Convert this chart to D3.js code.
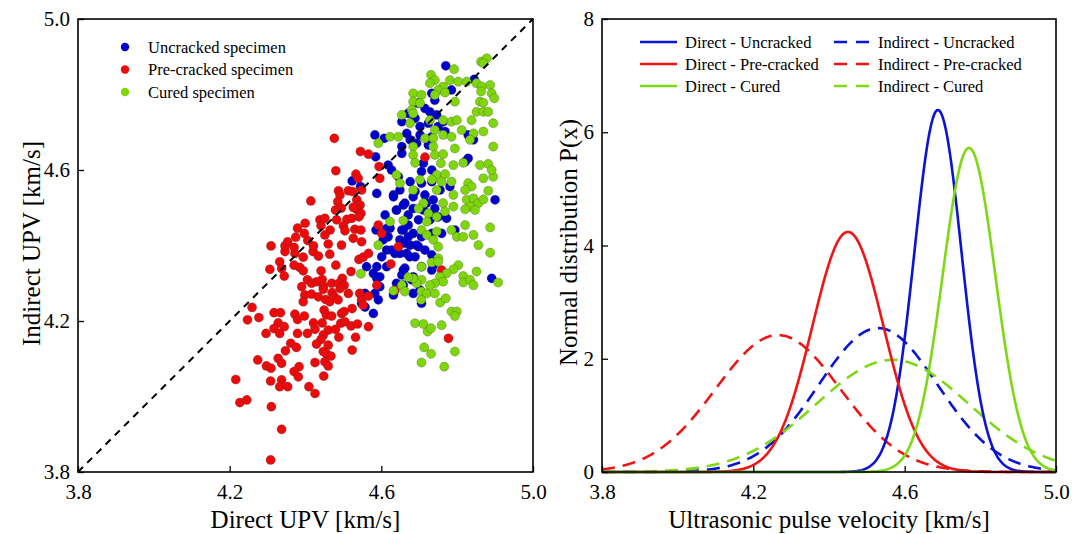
<!DOCTYPE html>
<html>
<head>
<meta charset="utf-8">
<script src="https://cdn.jsdelivr.net/npm/d3@7"></script>
<style>
  body { margin: 0; background: #fff; }
  svg { display: block; }
  text { font-family: "Liberation Serif", "Times New Roman", serif; fill: #000; }
</style>
</head>
<body>
<svg id="chart" width="1072" height="534"></svg>
<script>
// ---- Scatter data: [direct UPV, indirect UPV] in km/s ----
const uncracked = [
  [4.770,4.876],[4.845,4.840],[4.785,4.812],[4.733,4.803],[4.741,4.785],[4.697,4.777],[4.715,4.763],
  [4.728,4.754],[4.746,4.746],[4.763,4.728],[4.654,4.728],[4.689,4.737],[4.671,4.750],[4.702,4.715],
  [4.724,4.724],[4.750,4.715],[4.768,4.702],[4.702,4.693],[4.733,4.688],[4.667,4.697],[4.676,4.680],
  [4.654,4.662],[4.693,4.671],[4.583,4.693],[4.608,4.684],[4.829,4.693],[4.843,4.680],[4.724,4.666],
  [4.585,4.635],[4.618,4.613],[4.654,4.644],[4.627,4.600],[4.645,4.582],[4.676,4.569],[4.706,4.596],
  [4.733,4.600],[4.706,4.565],[4.733,4.569],[4.755,4.547],[4.781,4.556],[4.689,4.543],[4.715,4.534],
  [4.737,4.521],[4.588,4.538],[4.632,4.534],[4.662,4.512],[4.640,4.494],[4.684,4.498],[4.711,4.494],
  [4.741,4.498],[4.610,4.481],[4.671,4.481],[4.698,4.468],[4.728,4.468],[4.750,4.476],[4.772,4.472],
  [4.623,4.446],[4.654,4.441],[4.671,4.454],[4.684,4.432],[4.706,4.423],[4.733,4.432],[4.618,4.423],
  [4.649,4.415],[4.676,4.401],[4.698,4.397],[4.715,4.388],[4.614,4.388],[4.636,4.379],[4.667,4.379],
  [4.689,4.370],[4.733,4.375],[4.759,4.432],[4.794,4.441],[4.829,4.631],[4.900,4.521],[4.821,4.622],
  [4.711,4.618],[4.588,4.344],[4.579,4.326],[4.614,4.344],[4.662,4.340],[4.654,4.322],[4.706,4.344],
  [4.733,4.335],[4.588,4.313],[4.596,4.291],[4.583,4.273],[4.592,4.256],[4.557,4.273],[4.548,4.247],
  [4.579,4.220],[4.632,4.269],[4.684,4.273],[4.706,4.247],[4.658,4.295],[4.680,4.309],[4.891,4.313],
  [4.737,4.348],[4.561,4.344],[4.523,4.571],[4.545,4.556],[4.586,4.441],[4.557,4.237],
  [4.658,4.441],[4.671,4.423],[4.662,4.406],[4.693,4.401],[4.649,4.379],[4.675,4.370],[4.640,4.494],
  [4.658,4.507],[4.632,4.529],[4.649,4.547],[4.684,4.529],[4.719,4.512],[4.737,4.476],[4.614,4.445],
  [4.627,4.388],[4.658,4.335],[4.684,4.317],[4.702,4.282],[4.640,4.300],[4.605,4.415],[4.601,4.370],
  [4.596,4.317]
];
const precracked = [
  [4.346,4.384],[4.372,4.379],[4.394,4.369],[4.420,4.384],[4.434,4.372],[4.464,4.377],
  [4.332,4.357],[4.337,4.339],[4.306,4.337],[4.344,4.319],[4.370,4.348],[4.385,4.342],[4.394,4.333],
  [4.441,4.333],[4.480,4.348],[4.520,4.331],[4.541,4.363],[4.552,4.369],
  [4.405,4.309],[4.416,4.300],[4.429,4.304],[4.444,4.310],[4.447,4.293],[4.469,4.300],[4.497,4.313],
  [4.488,4.300],[4.502,4.295],[4.491,4.286],[4.390,4.291],
  [4.398,4.269],[4.416,4.271],[4.434,4.264],[4.453,4.257],[4.470,4.275],[4.476,4.264],[4.464,4.251],
  [4.486,4.256],[4.513,4.273],[4.543,4.273],[4.548,4.256],[4.552,4.242],[4.394,4.251],[4.447,4.284],
  [4.259,4.236],[4.247,4.203],[4.277,4.209],[4.317,4.222],[4.334,4.222],[4.372,4.218],[4.379,4.204],
  [4.397,4.213],[4.449,4.229],[4.455,4.216],[4.469,4.213],[4.495,4.220],[4.502,4.225],[4.523,4.233],
  [4.328,4.195],[4.317,4.180],[4.344,4.185],[4.296,4.167],[4.332,4.167],[4.379,4.167],[4.405,4.167],
  [4.421,4.195],[4.425,4.178],[4.444,4.195],[4.460,4.176],[4.479,4.178],[4.493,4.194],[4.504,4.198],
  [4.520,4.187],[4.537,4.192],[4.447,4.163],[4.441,4.151],[4.429,4.139],[4.488,4.157],[4.532,4.157],
  [4.361,4.141],[4.376,4.130],[4.347,4.121],[4.460,4.136],[4.447,4.119],[4.455,4.113],[4.467,4.107],
  [4.523,4.123],[4.274,4.097],[4.328,4.101],[4.337,4.088],[4.425,4.090],[4.451,4.092],[4.460,4.081],
  [4.297,4.081],[4.309,4.075],[4.383,4.079],[4.370,4.066],[4.381,4.052],[4.448,4.054],
  [4.216,4.045],[4.308,4.041],[4.337,4.044],[4.332,4.026],[4.353,4.026],[4.409,4.026],[4.425,4.008],
  [4.227,3.984],[4.245,3.991],[4.310,3.973],[4.337,3.913],[4.308,3.832],
  [4.476,4.684],[4.545,4.649],[4.480,4.598],[4.533,4.589],[4.539,4.578],
  [4.487,4.545],[4.491,4.534],[4.485,4.516],[4.513,4.545],[4.524,4.543],[4.535,4.521],[4.544,4.507],
  [4.548,4.547],[4.414,4.518],[4.479,4.494],[4.494,4.499],[4.535,4.496],[4.546,4.485],[4.526,4.501],
  [4.399,4.459],[4.379,4.446],[4.397,4.432],[4.438,4.468],[4.451,4.472],[4.441,4.452],[4.465,4.441],
  [4.451,4.428],[4.482,4.468],[4.509,4.469],[4.522,4.472],[4.541,4.476],[4.500,4.452],[4.504,4.439],
  [4.530,4.443],[4.546,4.441],
  [4.309,4.399],[4.346,4.399],[4.353,4.410],[4.374,4.422],[4.370,4.395],[4.406,4.413],[4.421,4.399],
  [4.460,4.404],[4.495,4.401],[4.526,4.419],[4.548,4.410],
  [4.566,4.642],[4.594,4.609],[4.596,4.578],[4.715,4.634],[4.592,4.454],[4.601,4.432],[4.645,4.397],
  [4.566,4.379],[4.625,4.351],[4.588,4.295],[4.566,4.266],[4.566,4.185],[4.777,4.154],[4.636,4.282],
  [4.759,4.335]
];
const cured = [
  [4.863,4.887],[4.878,4.896],[4.869,4.883],[4.792,4.867],[4.731,4.852],[4.741,4.838],[4.728,4.830],
  [4.763,4.821],[4.781,4.838],[4.803,4.834],[4.825,4.834],[4.851,4.830],[4.865,4.821],[4.887,4.825],
  [4.863,4.808],[4.891,4.803],[4.898,4.790],[4.750,4.812],[4.768,4.805],[4.741,4.799],[4.684,4.803],
  [4.706,4.799],[4.684,4.781],[4.702,4.777],[4.794,4.781],[4.860,4.781],[4.869,4.778],[4.851,4.754],
  [4.869,4.754],[4.882,4.754],[4.680,4.759],[4.654,4.746],[4.684,4.750],[4.728,4.732],[4.763,4.732],
  [4.785,4.728],[4.799,4.732],[4.838,4.732],[4.895,4.724],[4.676,4.724],[4.812,4.706],[4.843,4.697],
  [4.869,4.702],[4.741,4.706],[4.715,4.684],[4.737,4.684],[4.763,4.693],[4.785,4.688],[4.623,4.688],
  [4.645,4.688],[4.592,4.671],[4.684,4.662],[4.737,4.662],[4.794,4.657],[4.834,4.680],[4.895,4.662],
  [4.684,4.640],[4.689,4.619],[4.741,4.640],[4.763,4.642],[4.757,4.618],[4.790,4.613],[4.816,4.619],
  [4.860,4.613],[4.882,4.616],[4.746,4.587],[4.768,4.589],[4.733,4.574],[4.759,4.569],[4.785,4.569],
  [4.702,4.574],[4.649,4.565],[4.640,4.587],[4.684,4.547],[4.746,4.547],[4.790,4.534],[4.829,4.565],
  [4.838,4.556],[4.821,4.547],[4.869,4.578],[4.895,4.582],[4.882,4.545],[4.825,4.521],[4.843,4.525],
  [4.856,4.512],[4.834,4.503],[4.821,4.496],[4.847,4.494],[4.869,4.522],[4.711,4.512],[4.698,4.498],
  [4.724,4.485],[4.763,4.512],[4.790,4.503],[4.746,4.476],[4.720,4.463],[4.706,4.441],[4.720,4.428],
  [4.746,4.437],[4.768,4.490],[4.785,4.441],[4.799,4.423],[4.821,4.454],[4.843,4.428],[4.816,4.423],
  [4.856,4.401],[4.887,4.448],[4.737,4.415],[4.750,4.397],[4.623,4.463],[4.658,4.466],[4.592,4.401],
  [4.887,4.381],[4.750,4.366],[4.891,4.600],
  [4.546,4.325],[4.706,4.344],[4.733,4.355],[4.750,4.357],[4.803,4.348],[4.790,4.337],[4.772,4.326],
  [4.755,4.317],[4.763,4.304],[4.741,4.300],[4.728,4.295],[4.706,4.309],[4.693,4.300],[4.684,4.313],
  [4.671,4.316],[4.654,4.295],[4.662,4.278],[4.632,4.280],[4.706,4.278],[4.720,4.273],[4.741,4.273],
  [4.705,4.256],[4.755,4.249],[4.770,4.260],[4.816,4.319],[4.816,4.302],[4.834,4.309],[4.843,4.295],
  [4.851,4.331],[4.908,4.302],[4.785,4.225],[4.799,4.225],[4.794,4.213],[4.689,4.194],[4.711,4.192],
  [4.722,4.172],[4.731,4.181],[4.759,4.189],[4.713,4.130],[4.731,4.113],[4.794,4.119],[4.706,4.090],
  [4.766,4.079]
];
const scatterNames = ["Uncracked specimen", "Pre-cracked specimen", "Cured specimen"];
const upvTicks = [3.8, 4.2, 4.6, 5.0];
const densityTicks = [0, 2, 4, 6, 8];

// ---- Normal distribution fits (mean, standard deviation) in km/s ----
const conditions = ["Uncracked", "Pre-cracked", "Cured"];
const directMean = [4.688, 4.450, 4.770];
const directSd = [0.0624, 0.0941, 0.0697];
const indirectMean = [4.530, 4.265, 4.568];
const indirectSd = [0.157, 0.165, 0.2015];

const colors = ["#0000cc", "#ee0a0a", "#7fd60a"];
const lineColors = ["#0a14d4", "#f01414", "#7ed914"];

const SERIF = '"Liberation Serif", "Times New Roman", serif';
const svg = d3.select("#chart");
const FONT_TICK = 21, FONT_TITLE = 25, FONT_LEGEND = 16.5;

// Panel boxes
const left = { x0: 78, x1: 533, y0: 19, y1: 472 };
const right = { x0: 602, x1: 1056, y0: 19, y1: 472 };

function label(g, size) {
  return g.append("text").attr("font-family", SERIF).style("font-family", SERIF)
    .style("font-size", size + "px").attr("fill", "#000");
}

function drawFrame(g, box, xScale, yScale, xTicks, yTicks, fmtY) {
  const ax = g.append("g").attr("transform", `translate(0,${box.y1})`)
    .call(d3.axisBottom(xScale).tickValues(xTicks).tickFormat(d3.format(".1f"))
      .tickSize(-6).tickPadding(12));
  const ay = g.append("g").attr("transform", `translate(${box.x0},0)`)
    .call(d3.axisLeft(yScale).tickValues(yTicks).tickFormat(fmtY)
      .tickSize(-6).tickPadding(8));
  [ax, ay].forEach(a => {
    a.attr("font-family", SERIF).attr("font-size", FONT_TICK);
    a.select(".domain").remove();
    a.selectAll(".tick line").attr("stroke", "#000").attr("stroke-width", 1.3);
    a.selectAll(".tick text")
      .style("font-family", SERIF)
      .style("font-size", FONT_TICK + "px").attr("fill", "#000");
  });
  g.append("rect")
    .attr("x", box.x0).attr("y", box.y0)
    .attr("width", box.x1 - box.x0).attr("height", box.y1 - box.y0)
    .attr("fill", "none").attr("stroke", "#000").attr("stroke-width", 1.6);
}

// ================= Left panel: scatter =================
const xs = d3.scaleLinear().domain([3.8, 5.0]).range([left.x0, left.x1]);
const ys = d3.scaleLinear().domain([3.8, 5.0]).range([left.y1, left.y0]);
const gl = svg.append("g");

const groups = [uncracked, precracked, cured];
groups.forEach((pts, i) => {
  gl.append("g").selectAll("circle").data(pts).join("circle")
    .attr("cx", d => xs(d[0])).attr("cy", d => ys(d[1])).attr("r", 4.6)
    .attr("fill", colors[i]).attr("stroke", "#333").attr("stroke-opacity", 0.45)
    .attr("stroke-width", 0.6);
});

// line of equality
gl.append("line")
  .attr("x1", xs(3.8)).attr("y1", ys(3.8)).attr("x2", xs(5.0)).attr("y2", ys(5.0))
  .attr("stroke", "#000").attr("stroke-width", 2).attr("stroke-dasharray", "7,6");

drawFrame(gl, left, xs, ys, upvTicks, upvTicks, d3.format(".1f"));

// legend
scatterNames.forEach((name, i) => {
  const y = 47 + i * 22.5;
  gl.append("circle").attr("cx", 125).attr("cy", y).attr("r", 4.2).attr("fill", colors[i]);
  label(gl, FONT_LEGEND).attr("x", 148).attr("y", y).attr("dy", "0.35em").text(name);
});

label(gl, FONT_TITLE).attr("x", (left.x0 + left.x1) / 2).attr("y", 528)
  .attr("text-anchor", "middle").text("Direct UPV [km/s]");
label(gl, FONT_TITLE).attr("transform", `translate(40,${(left.y0 + left.y1) / 2 - 2}) rotate(-90)`)
  .attr("text-anchor", "middle").text("Indirect UPV [km/s]");

// ================= Right panel: normal distributions =================
const xr = d3.scaleLinear().domain([3.8, 5.0]).range([right.x0, right.x1]);
const yr = d3.scaleLinear().domain([0, 8]).range([right.y1, right.y0]);
const gr = svg.append("g");

const pdf = (x, m, s) => Math.exp(-0.5 * ((x - m) / s) ** 2) / (s * Math.sqrt(2 * Math.PI));
const grid = d3.range(0, 481).map(i => 3.8 + i * 1.2 / 480);
const line = d3.line().x(d => xr(d[0])).y(d => yr(d[1])).curve(d3.curveLinear);

gr.append("clipPath").attr("id", "clipR").append("rect")
  .attr("x", right.x0).attr("y", right.y0)
  .attr("width", right.x1 - right.x0).attr("height", right.y1 - right.y0 + 2);
const curves = gr.append("g").attr("clip-path", "url(#clipR)");

[0, 1, 2].forEach(i => {
  curves.append("path")
    .attr("d", line(grid.map(x => [x, pdf(x, indirectMean[i], indirectSd[i])])))
    .attr("fill", "none").attr("stroke", lineColors[i]).attr("stroke-width", 2.6)
    .attr("stroke-dasharray", "13,8");
});
[0, 1, 2].forEach(i => {
  curves.append("path")
    .attr("d", line(grid.map(x => [x, pdf(x, directMean[i], directSd[i])])))
    .attr("fill", "none").attr("stroke", lineColors[i]).attr("stroke-width", 2.6);
});

drawFrame(gr, right, xr, yr, upvTicks, densityTicks, d3.format("d"));

// legend
conditions.forEach((c, i) => {
  const y = 42 + i * 22;
  gr.append("line").attr("x1", 640).attr("x2", 677).attr("y1", y).attr("y2", y)
    .attr("stroke", lineColors[i]).attr("stroke-width", 2.6);
  label(gr, FONT_LEGEND).attr("x", 685).attr("y", y).attr("dy", "0.35em").text("Direct - " + c);
  gr.append("line").attr("x1", 834).attr("x2", 871).attr("y1", y).attr("y2", y)
    .attr("stroke", lineColors[i]).attr("stroke-width", 2.6).attr("stroke-dasharray", "13,9");
  label(gr, FONT_LEGEND).attr("x", 878).attr("y", y).attr("dy", "0.35em").text("Indirect - " + c);
});

label(gr, FONT_TITLE).attr("x", (right.x0 + right.x1) / 2).attr("y", 528)
  .attr("text-anchor", "middle").text("Ultrasonic pulse velocity [km/s]");
label(gr, FONT_TITLE).attr("transform", `translate(577,${(right.y0 + right.y1) / 2 - 3}) rotate(-90)`)
  .attr("text-anchor", "middle").text("Normal distribution P(x)");
</script>
</body>
</html>
